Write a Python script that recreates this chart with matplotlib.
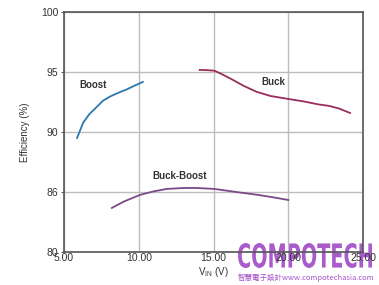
import matplotlib
matplotlib.use("Agg")
import matplotlib.pyplot as plt
from matplotlib.textpath import TextPath
from matplotlib.patches import PathPatch
from matplotlib.font_manager import FontProperties
from matplotlib.transforms import Affine2D

plt.rcParams['font.family'] = ['Liberation Sans', 'DejaVu Sans']

# efficiency curves
boost_v = [5.87, 6.0, 6.27, 6.7, 7.2, 7.6, 8.07, 8.6, 9.2, 9.7, 10.27]
boost_eff = [89.5, 89.9, 90.75, 91.5, 92.1, 92.6, 92.95, 93.25, 93.55, 93.85, 94.17]

buck_v = [14.07, 14.6, 15.07, 15.5, 16.2, 17.0, 17.87, 18.8, 20.0, 21.0, 22.0, 22.73, 23.4, 24.13]
buck_eff = [95.17, 95.15, 95.1, 94.85, 94.4, 93.85, 93.35, 93.0, 92.75, 92.55, 92.3, 92.17, 91.95, 91.58]

bb_v = [8.2, 9.0, 10.07, 11.0, 11.87, 13.0, 13.87, 15.07, 16.5, 18.0, 19.0, 20.0]
bb_eff = [83.67, 84.2, 84.75, 85.05, 85.25, 85.33, 85.33, 85.25, 85.0, 84.75, 84.55, 84.33]

x_ticks = [5, 10, 15, 20, 25]
x_labels = ["5.00", "10.00", "15.00", "20.00", "25.00"]
y_ticks = [80, 85, 90, 95, 100]
y_labels = ["80", "86", "90", "95", "100"]

fig = plt.figure(figsize=(3.79, 2.85), dpi=100)
ax = fig.add_axes([0.169, 0.116, 0.789, 0.842])
ax.patch.set_alpha(0)  # let the watermark sit under the axes

ax.plot(boost_v, boost_eff, color="#2b78ad", lw=1.3)
ax.plot(buck_v, buck_eff, color="#992d5c", lw=1.3)
ax.plot(bb_v, bb_eff, color="#7a4a88", lw=1.3)

ax.text(6.05, 93.9, "Boost", fontsize=7, fontweight="bold", color="#333333", va="center")
ax.text(18.2, 94.2, "Buck", fontsize=7, fontweight="bold", color="#333333", va="center")
ax.text(10.9, 86.3, "Buck-Boost", fontsize=7, fontweight="bold", color="#333333", va="center")

ax.set_xlim(5, 25)
ax.set_ylim(80, 100)
ax.set_xticks(x_ticks)
ax.set_xticklabels(x_labels)
ax.set_yticks(y_ticks)
ax.set_yticklabels(y_labels)
ax.tick_params(labelsize=7.5, colors="#333333", length=2, width=0.6, pad=2)
ax.tick_params(axis="x", length=0, pad=1)
ax.grid(True, color="#bdbdbd", lw=1.0)
for s in ax.spines.values():
    s.set_color("#555555")
    s.set_linewidth(1.2)

ax.set_ylabel("Efficiency (%)", fontsize=7, color="#333333", labelpad=8)
ax.set_xlabel(r"$\mathregular{V_{IN}}$ (V)", fontsize=7, color="#333333", labelpad=1)

# watermark: condensed bold logo, squeezed to fit its box (pixels from bottom-left)
wm_color = "#a552c9"
tp = TextPath((0, 0), "COMPOTECH", size=30, prop=FontProperties(family="DejaVu Sans", weight="bold"))
ext = tp.get_extents()
box_x, box_y, box_w, box_h = 238, 17, 134, 25
tr = (Affine2D().translate(-ext.x0, -ext.y0)
      .scale(box_w / ext.width, box_h / ext.height)
      .translate(box_x, box_y))
logo = PathPatch(tr.transform_path(tp), facecolor=wm_color, edgecolor="none",
                 alpha=0.95, transform=None, zorder=-5)
fig.add_artist(logo)
fig.text(0.628, 0.018, "智慧電子設計www.compotechasia.com", fontsize=5.4, color=wm_color,
         family=["Noto Sans CJK TC", "DejaVu Sans"], zorder=-5)

plt.savefig("out.png", dpi=100)
